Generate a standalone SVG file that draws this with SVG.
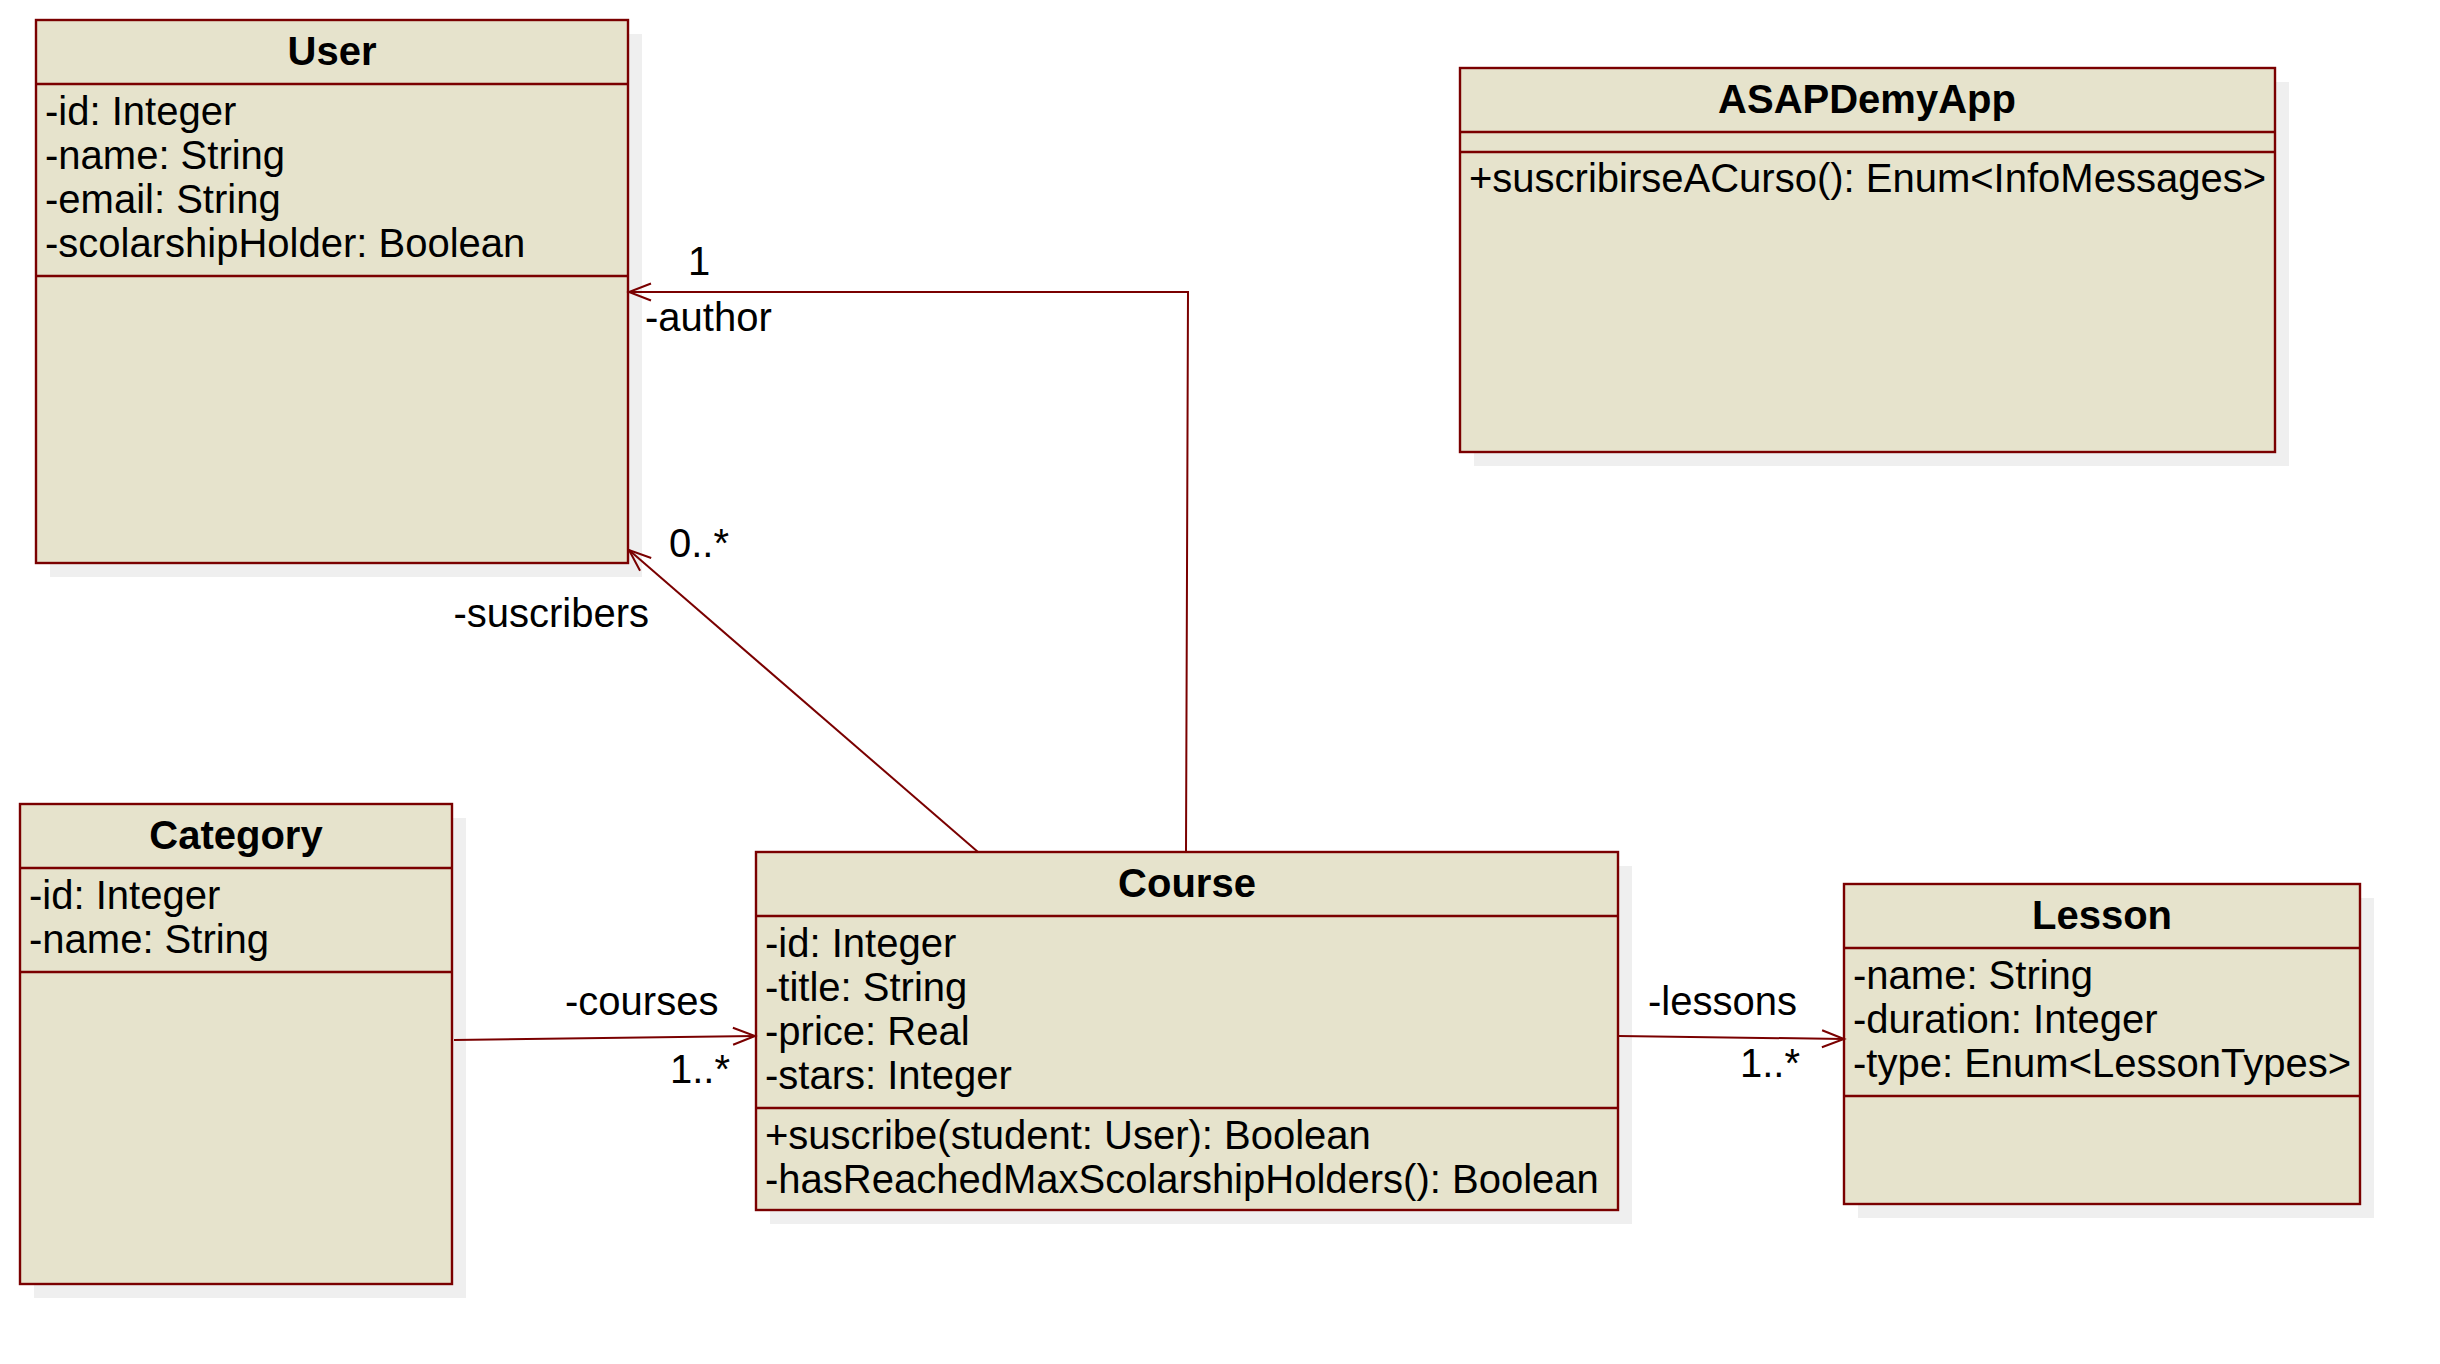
<svg xmlns="http://www.w3.org/2000/svg" width="2440" height="1364" viewBox="0 0 2440 1364">
<style>
.shadow{fill:#efefef;stroke:none}
.box{fill:#e6e3cc;stroke:#7a0000;stroke-width:2.4}
.div{stroke:#7a0000;stroke-width:2.4;fill:none}
.title{font-family:"Liberation Sans",Arial,sans-serif;font-size:40px;font-weight:bold;text-anchor:middle;fill:#000}
.t{font-family:"Liberation Sans",Arial,sans-serif;font-size:40px;fill:#000}
.conn{stroke:#7a0000;stroke-width:2;fill:none}
</style>
<defs>
<marker id="open" markerUnits="userSpaceOnUse" markerWidth="40" markerHeight="40" viewBox="-30 -20 40 40" refX="0" refY="0" orient="auto">
<path d="M-22,-8.5 L0,0 L-22,8.5" fill="none" stroke="#7a0000" stroke-width="2"/>
</marker>
</defs>
<rect width="2440" height="1364" fill="#ffffff"/>

<g id="User">
<rect class="shadow" x="50" y="34" width="592" height="543"/>
<rect class="box" x="36" y="20" width="592" height="543"/>
<line class="div" x1="36" y1="84" x2="628" y2="84"/>
<line class="div" x1="36" y1="276" x2="628" y2="276"/>
<text class="title" x="332" y="64.5">User</text>
<text class="t" x="45" y="124.5">-id: Integer</text>
<text class="t" x="45" y="168.5">-name: String</text>
<text class="t" x="45" y="212.5">-email: String</text>
<text class="t" x="45" y="256.5">-scolarshipHolder: Boolean</text>
</g>

<g id="ASAPDemyApp">
<rect class="shadow" x="1474" y="82" width="815" height="384"/>
<rect class="box" x="1460" y="68" width="815" height="384"/>
<line class="div" x1="1460" y1="132" x2="2275" y2="132"/>
<line class="div" x1="1460" y1="152" x2="2275" y2="152"/>
<text class="title" x="1867" y="112.5">ASAPDemyApp</text>
<text class="t" x="1469" y="191.5">+suscribirseACurso(): Enum&lt;InfoMessages&gt;</text>
</g>

<g id="Category">
<rect class="shadow" x="34" y="818" width="432" height="480"/>
<rect class="box" x="20" y="804" width="432" height="480"/>
<line class="div" x1="20" y1="868" x2="452" y2="868"/>
<line class="div" x1="20" y1="972" x2="452" y2="972"/>
<text class="title" x="236" y="848.5">Category</text>
<text class="t" x="29" y="908.5">-id: Integer</text>
<text class="t" x="29" y="952.5">-name: String</text>
</g>

<g id="Course">
<rect class="shadow" x="770" y="866" width="862" height="358"/>
<rect class="box" x="756" y="852" width="862" height="358"/>
<line class="div" x1="756" y1="916" x2="1618" y2="916"/>
<line class="div" x1="756" y1="1108" x2="1618" y2="1108"/>
<text class="title" x="1187" y="896.5">Course</text>
<text class="t" x="765" y="956.5">-id: Integer</text>
<text class="t" x="765" y="1000.5">-title: String</text>
<text class="t" x="765" y="1044.5">-price: Real</text>
<text class="t" x="765" y="1088.5">-stars: Integer</text>
<text class="t" x="765" y="1148.5">+suscribe(student: User): Boolean</text>
<text class="t" x="765" y="1192.5">-hasReachedMaxScolarshipHolders(): Boolean</text>
</g>

<g id="Lesson">
<rect class="shadow" x="1858" y="898" width="516" height="320"/>
<rect class="box" x="1844" y="884" width="516" height="320"/>
<line class="div" x1="1844" y1="948" x2="2360" y2="948"/>
<line class="div" x1="1844" y1="1096" x2="2360" y2="1096"/>
<text class="title" x="2102" y="928.5">Lesson</text>
<text class="t" x="1853" y="988.5">-name: String</text>
<text class="t" x="1853" y="1032.5">-duration: Integer</text>
<text class="t" x="1853" y="1076.5">-type: Enum&lt;LessonTypes&gt;</text>
</g>

<g id="connectors">
<polyline class="conn" points="1186,852 1188,292 629,292" marker-end="url(#open)"/>
<line class="conn" x1="978" y1="852" x2="629" y2="550" marker-end="url(#open)"/>
<line class="conn" x1="454" y1="1040" x2="755" y2="1036" marker-end="url(#open)"/>
<line class="conn" x1="1619" y1="1036" x2="1844" y2="1039" marker-end="url(#open)"/>
<text class="t" x="688" y="274.5">1</text>
<text class="t" x="645" y="330.5">-author</text>
<text class="t" x="669" y="556.5">0..*</text>
<text class="t" x="649" y="626.5" text-anchor="end">-suscribers</text>
<text class="t" x="565" y="1014.5">-courses</text>
<text class="t" x="670" y="1082.5">1..*</text>
<text class="t" x="1648" y="1014.5">-lessons</text>
<text class="t" x="1740" y="1076.5">1..*</text>
</g>
</svg>
